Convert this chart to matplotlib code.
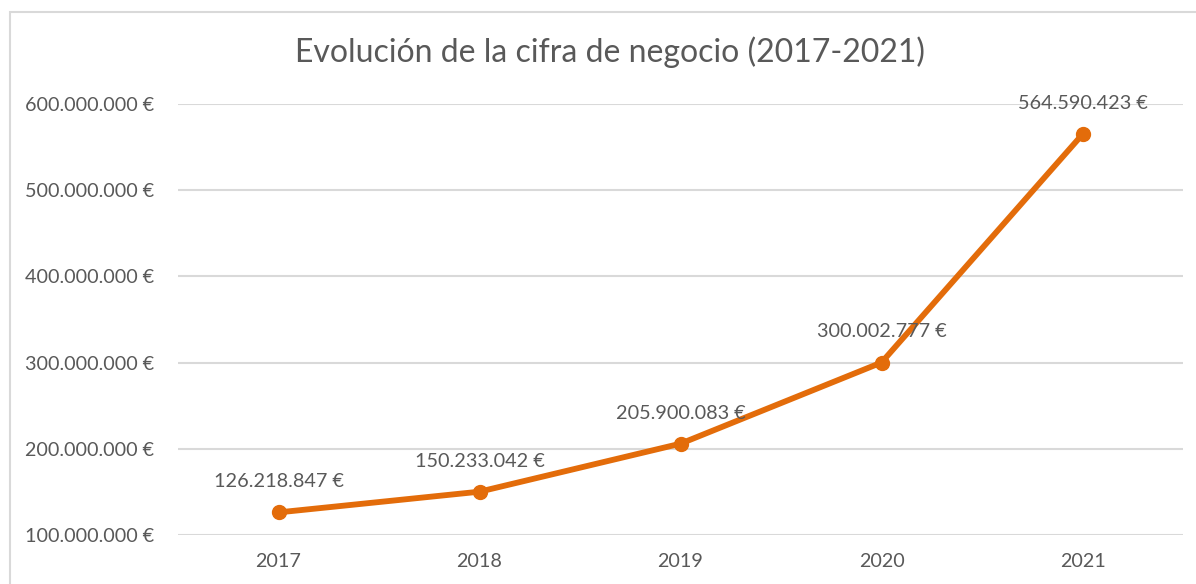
import numpy as np
import matplotlib.pyplot as plt
from matplotlib.patches import Rectangle

years = ["2017", "2018", "2019", "2020", "2021"]
revenue = [126218847, 150233042, 205900083, 300002777, 564590423]
y_ticks = [100000000, 200000000, 300000000, 400000000, 500000000, 600000000]

orange = "#E36C0A"
grey_txt = "#595959"
grid_col = "#D9D9D9"

plt.rcParams['font.family'] = ['Lato', 'DejaVu Sans']


def euro(v):
    return f"{v:,.0f}".replace(",", ".") + " €"


fig = plt.figure(figsize=(11.96, 5.84), dpi=100)
ax = fig.add_axes([178 / 1196, 49 / 584, (1183 - 178) / 1196, (535 - 104) / 584 + 0.0003])
ax.set_ylim(100000000, 600000000)

# chart frame
fig.patches.append(Rectangle((10 / 1196, -0.05), 1.2, 1 - 12 / 584 + 0.05,
                             transform=fig.transFigure, fill=False,
                             edgecolor=grid_col, linewidth=1.5))

x = np.arange(len(years))
ax.plot(x, revenue, color=orange, linewidth=4.2, marker="o", markersize=10,
        solid_capstyle="round", solid_joinstyle="round", zorder=3)

for xi, v in zip(x, revenue):
    ax.annotate(euro(v), (xi, v), xytext=(0, 22), textcoords="offset points",
                ha="center", va="center", fontsize=14.3, color=grey_txt,
                annotation_clip=False, zorder=5)

ax.set_xlim(-0.5, len(years) - 0.5)
ax.set_xticks(x)
ax.set_xticklabels(years)
ax.set_yticks(y_ticks)
ax.set_yticklabels([euro(v) for v in y_ticks])
ax.tick_params(axis="both", length=0, labelsize=14.2, labelcolor=grey_txt)
ax.tick_params(axis="y", pad=17)
ax.tick_params(axis="x", pad=13)
ax.grid(axis="y", color=grid_col, linewidth=1.5)
ax.set_axisbelow(True)
for s in ax.spines.values():
    s.set_visible(False)

fig.text(0.51, 1 - 52 / 584, "Evolución de la cifra de negocio (2017-2021)",
         ha="center", va="center", fontsize=23, color=grey_txt)

fig.savefig("out.png", dpi=100)
